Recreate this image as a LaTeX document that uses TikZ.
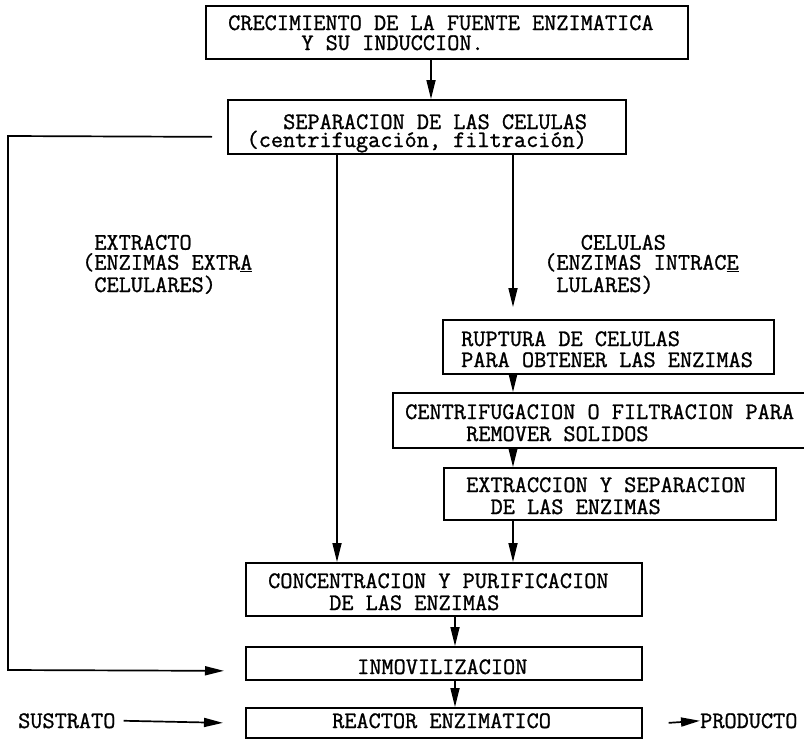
\documentclass[tikz,border=0pt]{standalone}
\usepackage{fontspec}
\usepackage{tikz}
\usetikzlibrary{arrows.meta,positioning}

% typewriter face, a little heavier than plain \ttfamily
\newfontfamily\typew{Latin Modern Mono}[FakeBold=1.1]
% width of one typewriter character
\newlength\chw
\setlength\chw{12.2pt}

\begin{document}
\begin{tikzpicture}[x=1pt, y=-1pt, >={Triangle[length=19pt,width=9pt]},
  box/.style={draw, line width=1.7pt, anchor=north west, inner sep=0pt},
  txt/.style={anchor=base west, align=left, inner sep=0pt,
    font=\typew\fontsize{23.6}{18}\selectfont},
  flow/.style={->, line width=1.7pt}]
  \fill[white] (0,0) rectangle (804,742);
  \useasboundingbox (0,0) rectangle (804,742);

  % ---- boxes ----
  \node[box, minimum width=482pt, minimum height=53pt] (grow) at (205,5) {};
  \node[box, minimum width=398pt, minimum height=54pt] (sep) at (227,99) {};
  \node[box, minimum width=331pt, minimum height=54pt] (rupt) at (442,319) {};
  \node[box, minimum width=420pt, minimum height=55pt] (cent) at (392,392) {};
  \node[box, minimum width=332pt, minimum height=52pt] (extr) at (443,467) {};
  \node[box, minimum width=396pt, minimum height=53pt] (conc) at (245,562) {};
  \node[box, minimum width=396pt, minimum height=33pt] (inmov) at (245,646) {};
  \node[box, minimum width=396pt, minimum height=30pt] (reac) at (245,707) {};

  % ---- texts (placed at the baseline of their last line) ----
  \node[txt] (growt) at (228,50) {CRECIMIENTO DE LA FUENTE ENZIMATICA\\[2pt]
    \hspace*{6\chw}Y SU INDUCCION.};
  \node[txt] (sept) at (283,147) {SEPARACION DE LAS CELULAS\\[0pt]
    \hspace*{-3\chw}(centrifugación, filtración)};
  \node[txt] (ruptt) at (461,367) {RUPTURA DE CELULAS\\[3pt]PARA OBTENER LAS ENZIMAS};
  \node[txt] (centt) at (405,441) {CENTRIFUGACION O FILTRACION PARA\\[4pt]
    \hspace*{5\chw}REMOVER SOLIDOS};
  \node[txt] (extrt) at (466,514) {EXTRACCION Y SEPARACION\\[4pt]
    \hspace*{2\chw}DE LAS ENZIMAS};
  \node[txt] (conct) at (268,610) {CONCENTRACION Y PURIFICACION\\[4pt]
    \hspace*{5\chw}DE LAS ENZIMAS};
  \node[txt] (inmovt) at (357,674) {INMOVILIZACION};
  \node[txt] (react) at (332,728) {REACTOR ENZIMATICO};

  % ---- branch labels ----
  \node[txt] (extl) at (82,292) {\hspace*{1\chw}EXTRACTO\\[2pt]
    (ENZIMAS EXTR\underline{A}\\[3pt]\hspace*{1\chw}CELULARES)};
  \node[txt] (cell) at (544,292) {\hspace*{3\chw}CELULAS\\[2pt]
    (ENZIMAS INTRAC\underline{E}\\[3pt]\hspace*{1\chw}LULARES)};
  \node[txt] (sus) at (18,728) {SUSTRATO};
  \node[txt] (prod) at (700,728) {PRODUCTO};

  % ---- connectors ----
  \coordinate (xa) at (431,0);
  \coordinate (xb) at (337,0);
  \coordinate (xc) at (513,0);
  \coordinate (xd) at (455,0);
  \draw[flow] (grow.south -| xa) -- (sep.north -| xa);
  \draw[flow] (sep.south -| xb) -- (conc.north -| xb);
  \draw[flow, shorten >=12pt] (sep.south -| xc) -- (rupt.north -| xc);
  \draw[flow] (rupt.south -| xc) -- (cent.north -| xc);
  \draw[flow] (cent.south -| xc) -- (extr.north -| xc);
  \draw[flow] (extr.south -| xc) -- (conc.north -| xc);
  \draw[flow] (conc.south -| xd) -- (inmov.north -| xd);
  \draw[flow] (inmov.south -| xd) -- (reac.north -| xd);
  % extract goes straight to immobilisation
  \draw[flow] ([shift={(-15,10)}]sep.west) -- (8,136) -- (8,670)
    -- ([shift={(-21,7.5)}]inmov.west);
  \draw[flow] ([xshift=8pt]sus.east) -- ([xshift=-22pt]reac.west);
  \draw[flow] ([xshift=26pt]reac.east) -- (prod.west);
\end{tikzpicture}
\end{document}
